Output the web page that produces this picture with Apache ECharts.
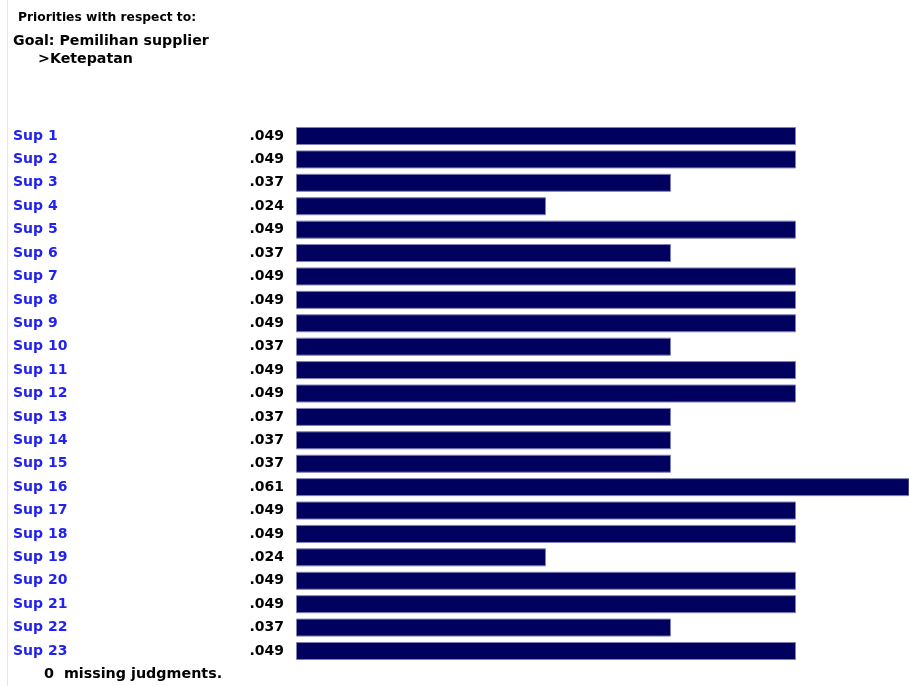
<!DOCTYPE html>
<html><head><meta charset="utf-8">
<script src="https://cdn.jsdelivr.net/npm/echarts@6/dist/echarts.min.js"></script>
<style>html,body{margin:0;padding:0;background:#fff}#c{width:909px;height:686px}</style>
</head><body><div id="c"></div>
<script>
const categories = ['Sup 1','Sup 2','Sup 3','Sup 4','Sup 5','Sup 6','Sup 7','Sup 8','Sup 9','Sup 10','Sup 11','Sup 12','Sup 13','Sup 14','Sup 15','Sup 16','Sup 17','Sup 18','Sup 19','Sup 20','Sup 21','Sup 22','Sup 23'];
const priorities = [0.0488,0.0488,0.0366,0.0244,0.0488,0.0366,0.0488,0.0488,0.0488,0.0366,0.0488,0.0488,0.0366,0.0366,0.0366,0.0610,0.0488,0.0488,0.0244,0.0488,0.0488,0.0366,0.0488];
const headerLines = ['Priorities with respect to:', 'Goal: Pemilihan supplier', '>Ketepatan'];
const footerText = '0  missing judgments.';

const FONT = 'DejaVu Sans';
const chart = echarts.init(document.getElementById('c'));
chart.setOption({
  animation: false,
  grid: { left: 296, right: 0, top: 124.3, bottom: 23.3 },
  xAxis: { type: 'value', min: 0, max: 0.05983, show: false },
  yAxis: {
    type: 'category', data: categories, inverse: true,
    axisLine: { show: false }, axisTick: { show: false }, splitLine: { show: false },
    axisLabel: { align: 'left', margin: 283, color: '#2222ee', fontFamily: FONT, fontWeight: 'bold', fontSize: 14 }
  },
  series: [{
    type: 'bar', data: priorities, barWidth: 18,
    itemStyle: { color: '#00005e', borderColor: '#8080b8', borderWidth: 1 },
    label: {
      show: true, position: 'left', distance: 12,
      color: '#000', fontFamily: FONT, fontWeight: 'bold', fontSize: 14,
      formatter: p => p.value.toFixed(3).replace(/^0/, '')
    }
  }],
  graphic: [
    { type: 'line', shape: { x1: 7.5, y1: 0, x2: 7.5, y2: 686 }, style: { stroke: '#e6e6e6', lineWidth: 1 } },
    { type: 'text', x: 18, y: 18, style: { text: headerLines[0], font: 'bold 12.3px "DejaVu Sans"', fill: '#000', verticalAlign: 'middle' } },
    { type: 'text', x: 13, y: 41, style: { text: headerLines[1], font: 'bold 14.2px "DejaVu Sans"', fill: '#000', verticalAlign: 'middle' } },
    { type: 'text', x: 38, y: 59, style: { text: headerLines[2], font: 'bold 14.2px "DejaVu Sans"', fill: '#000', verticalAlign: 'middle' } },
    { type: 'text', x: 44, y: 674, style: { text: footerText, font: 'bold 14.3px "DejaVu Sans"', fill: '#000', verticalAlign: 'middle' } }
  ]
});
</script></body></html>
